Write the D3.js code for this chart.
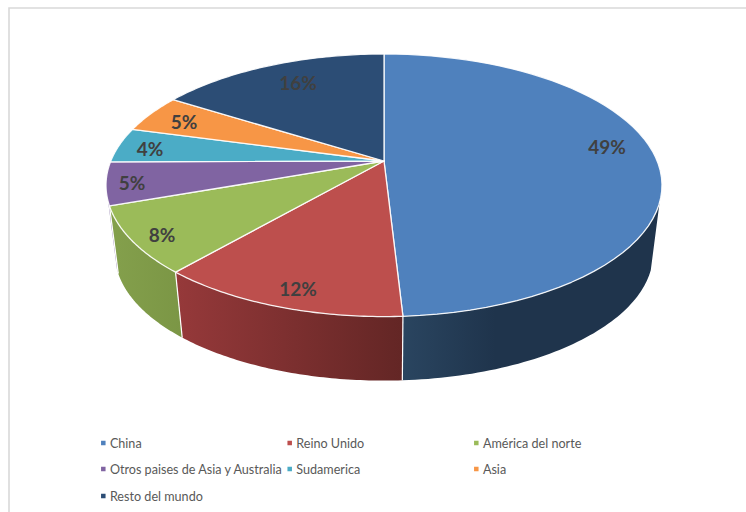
<!DOCTYPE html>
<html>
<head>
<meta charset="utf-8">
<script src="https://cdn.jsdelivr.net/npm/d3@7"></script>
<style>
  html, body { margin: 0; padding: 0; background: #fff; }
  svg { display: block; }
  text { font-family: Lato, "Open Sans", sans-serif; }
</style>
</head>
<body>
<div id="chart"></div>
<script>
// Data
var categories = ["China", "Reino Unido", "América del norte", "Otros paises de Asia y Australia", "Sudamerica", "Asia", "Resto del mundo"];
var shares = [49.1, 12.3, 8.2, 5.3, 4.3, 4.7, 16.1];

// Colours
var topColors = ["#4f81bd", "#bd4f4d", "#9bbb59", "#8064a2", "#4bacc6", "#f79646", "#2c4d75"];
var wallFrom = ["#2a4560", "#96393a", "#84a04c", "#8a78a8", "#4bacc6", "#f79646", "#2c4d75"];
var wallTo = ["#1f344c", "#632625", "#7b9645", "#8a78a8", "#4bacc6", "#f79646", "#2c4d75"];
// Where each rim gradient reaches its last colour (china goes dark quickly, then stays flat)
var wallStop = [0.36, 1, 1, 1, 1, 1, 1];

var svgWidth = 746;
var svgHeight = 512;

// Tilted disc: perspective projection of the unit circle
var cx = 384, cy = 161;
var radiusX = 273.2, radiusY = 126.8, persp = 0.185;
// Bottom face is the top face shrunk and moved down
var bottomScale = 0.968, bottomCy = 230;
// Part of the rim that faces the viewer (radians)
var rimStart = 108 * Math.PI / 180, rimEnd = 252.5 * Math.PI / 180;

function project(a, r) {
  var w = 1 + persp * r * Math.cos(a);
  return [cx + radiusX * r * Math.sin(a) / w, cy - radiusY * r * Math.cos(a) / w];
}
function projectBottom(a) {
  var p = project(a, 1);
  return [cx + bottomScale * (p[0] - cx), bottomCy + bottomScale * (p[1] - cy)];
}
function arcAngles(a0, a1) {
  return d3.range(0, 61).map(function(i) { return a0 + (a1 - a0) * i / 60; });
}

var svg = d3.select("#chart")
  .append("svg")
  .attr("width", svgWidth)
  .attr("height", svgHeight);

// Chart frame, cut off at the right and bottom of the screenshot
svg.append("path")
  .attr("d", "M9,512V8H746")
  .attr("fill", "none")
  .attr("stroke", "#d9d9d9")
  .attr("stroke-width", 1.6);

var defs = svg.append("defs");
var line = d3.line();

var slices = d3.pie().sort(null).value(function(d) { return d; })(shares);

// Rim first, the top face goes over it
slices.forEach(function(s, i) {
  var a0 = Math.max(s.startAngle, rimStart);
  var a1 = Math.min(s.endAngle, rimEnd);
  if (a1 <= a0) return;

  var angles = arcAngles(a0, a1);
  var upper = angles.map(function(a) { return project(a, 1); });
  var lower = angles.slice().reverse().map(projectBottom);

  var xs = upper.concat(lower).map(function(p) { return p[0]; });
  var grad = defs.append("linearGradient")
    .attr("id", "wall" + i)
    .attr("gradientUnits", "userSpaceOnUse")
    .attr("x1", d3.min(xs)).attr("x2", d3.max(xs))
    .attr("y1", 0).attr("y2", 0);
  grad.append("stop").attr("offset", 0).attr("stop-color", wallFrom[i]);
  grad.append("stop").attr("offset", wallStop[i]).attr("stop-color", wallTo[i]);

  svg.append("path")
    .attr("d", line(upper.concat(lower)) + "Z")
    .attr("fill", "url(#wall" + i + ")");

  // white seam where two rim pieces meet
  if (s.startAngle > rimStart && s.startAngle < rimEnd) {
    svg.append("path")
      .attr("d", line([project(s.startAngle, 1), projectBottom(s.startAngle)]))
      .attr("stroke", "#fff")
      .attr("stroke-width", 1.2)
      .attr("fill", "none");
  }
});

// Top face
slices.forEach(function(s, i) {
  var pts = arcAngles(s.startAngle, s.endAngle).map(function(a) { return project(a, 1); });
  pts.unshift([cx, cy]);
  svg.append("path")
    .attr("d", line(pts) + "Z")
    .attr("fill", topColors[i])
    .attr("stroke", "#fff")
    .attr("stroke-width", 1.3)
    .attr("stroke-opacity", 0.9)
    .attr("stroke-linejoin", "round");
});

// Percent labels, placed as in the picture
var labelCentres = [[607, 147], [298, 289], [162, 235], [132, 183], [150, 149], [184, 122], [298, 83]];
svg.selectAll(".pct")
  .data(shares)
  .enter()
  .append("text")
  .attr("class", "pct")
  .attr("x", function(d, i) { return labelCentres[i][0]; })
  .attr("y", function(d, i) { return labelCentres[i][1]; })
  .attr("dy", "0.36em")
  .attr("text-anchor", "middle")
  .attr("font-size", 19)
  .attr("font-weight", 700)
  .attr("fill", "#404040")
  .text(function(d) { return Math.round(d) + "%"; });

// Legend: three columns
var legendX = [103.3, 289.7, 476.3];
var legendY = [443, 469, 496];
var legend = svg.selectAll(".legend")
  .data(categories)
  .enter()
  .append("g")
  .attr("class", "legend")
  .attr("transform", function(d, i) {
    return "translate(" + legendX[i % 3] + "," + legendY[Math.floor(i / 3)] + ")";
  });
legend.append("rect")
  .attr("x", -2.25).attr("y", -2.25)
  .attr("width", 4.5).attr("height", 4.5)
  .attr("fill", function(d, i) { return topColors[i]; });
legend.append("text")
  .attr("x", 6.6)
  .attr("dy", "0.36em")
  .attr("font-size", 12.6)
  .attr("fill", "#595959")
  .text(function(d) { return d; });
</script>
</body>
</html>
